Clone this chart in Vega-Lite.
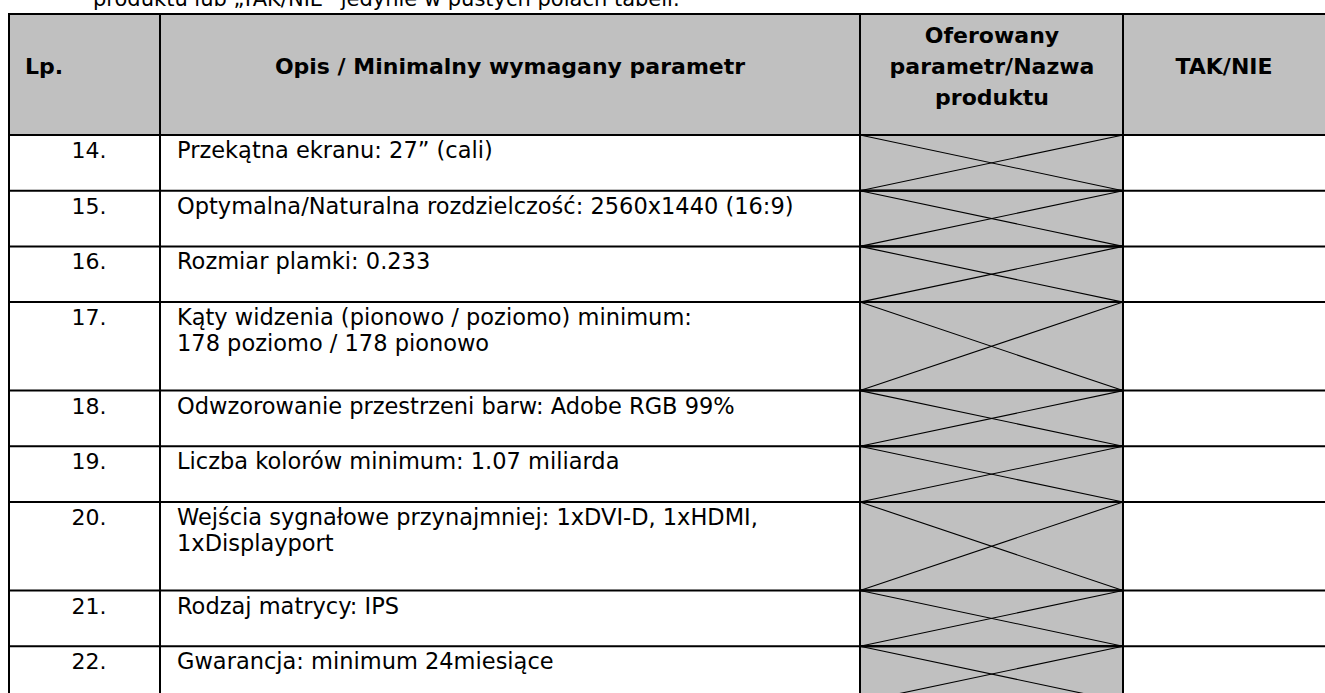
{
  "$schema": "https://vega.github.io/schema/vega-lite/v6.json",
  "width": 1325,
  "height": 693,
  "autosize": {"type": "none"},
  "padding": 0,
  "background": "white",
  "config": {"view": {"stroke": null}, "axis": {"disable": true}, "text": {"font": "DejaVu Sans", "color": "black"}},
  "datasets": {
    "rows": [
      {"lp": "14.", "opis": "Przekątna ekranu: 27” (cali)"},
      {"lp": "15.", "opis": "Optymalna/Naturalna rozdzielczość: 2560x1440 (16:9)"},
      {"lp": "16.", "opis": "Rozmiar plamki: 0.233"},
      {"lp": "17.", "opis": ["Kąty widzenia (pionowo / poziomo) minimum:", "178 poziomo / 178 pionowo"]},
      {"lp": "18.", "opis": "Odwzorowanie przestrzeni barw: Adobe RGB 99%"},
      {"lp": "19.", "opis": "Liczba kolorów minimum: 1.07 miliarda"},
      {"lp": "20.", "opis": ["Wejścia sygnałowe przynajmniej: 1xDVI-D, 1xHDMI,", "1xDisplayport"]},
      {"lp": "21.", "opis": "Rodzaj matrycy: IPS"},
      {"lp": "22.", "opis": "Gwarancja: minimum 24miesiące"}
    ],
    "header": [
      {"col": "lp", "label": "Lp."},
      {"col": "opis", "label": "Opis / Minimalny wymagany parametr"},
      {"col": "ofer", "label": ["Oferowany", "parametr/Nazwa", "produktu"]},
      {"col": "tak", "label": "TAK/NIE"}
    ],
    "note": [
      {"t": "produktu lub „TAK/NIE” jedynie w pustych polach tabeli."}
    ]
  },
  "layer": [
    {
      "data": {"name": "header"},
      "transform": [
        {"calculate": "[9,160,860,1123][indexof(['lp','opis','ofer','tak'], datum.col)]", "as": "x0"},
        {"calculate": "[160,860,1123,1328][indexof(['lp','opis','ofer','tak'], datum.col)]", "as": "x1"},
        {"calculate": "[44,510,992,1224][indexof(['lp','opis','ofer','tak'], datum.col)]", "as": "xt"},
        {"calculate": "67 - ((isArray(datum.label) ? length(datum.label) : 1) - 1) * 15.5", "as": "yt"}
      ],
      "layer": [
        {
          "mark": {"type": "rect", "fill": "#c0c0c0", "stroke": "black", "strokeWidth": 2},
          "encoding": {
            "x": {"field": "x0", "type": "quantitative", "scale": {"domain": [0, 1325], "nice": false, "zero": false}},
            "x2": {"field": "x1"},
            "y": {"datum": 14, "type": "quantitative", "scale": {"domain": [0, 693], "nice": false, "zero": false, "reverse": true}},
            "y2": {"datum": 135}
          }
        },
        {
          "mark": {"type": "rule", "stroke": "black", "strokeWidth": 2},
          "encoding": {
            "x": {"field": "x0", "type": "quantitative"},
            "y": {"datum": 135, "type": "quantitative"},
            "y2": {"datum": 710}
          }
        },
        {
          "mark": {"type": "text", "fontWeight": "bold", "fontSize": 22, "align": "center", "baseline": "middle", "lineHeight": 31},
          "encoding": {
            "x": {"field": "xt", "type": "quantitative"},
            "y": {"field": "yt", "type": "quantitative"},
            "text": {"field": "label"}
          }
        }
      ]
    },
    {
      "data": {"name": "rows"},
      "transform": [
        {"calculate": "isArray(datum.opis) ? length(datum.opis) : 1", "as": "nlines"},
        {"calculate": "datum.nlines > 1 ? 88.5 : 55.7", "as": "h"},
        {"window": [{"op": "sum", "field": "h", "as": "cum"}], "frame": [null, 0]},
        {"calculate": "135 + datum.cum", "as": "yb"},
        {"calculate": "datum.yb - datum.h", "as": "yt"},
        {"calculate": "datum.yt + 23", "as": "ytext"}
      ],
      "layer": [
        {
          "mark": {"type": "rect", "fill": "#c0c0c0", "stroke": "black", "strokeWidth": 2},
          "encoding": {
            "x": {"datum": 860, "type": "quantitative"},
            "x2": {"datum": 1123},
            "y": {"field": "yt", "type": "quantitative"},
            "y2": {"field": "yb"}
          }
        },
        {
          "mark": {"type": "rule", "stroke": "black", "strokeWidth": 1.1},
          "encoding": {
            "x": {"datum": 860, "type": "quantitative"},
            "x2": {"datum": 1123},
            "y": {"field": "yt", "type": "quantitative"},
            "y2": {"field": "yb"}
          }
        },
        {
          "mark": {"type": "rule", "stroke": "black", "strokeWidth": 1.1},
          "encoding": {
            "x": {"datum": 860, "type": "quantitative"},
            "x2": {"datum": 1123},
            "y": {"field": "yb", "type": "quantitative"},
            "y2": {"field": "yt"}
          }
        },
        {
          "mark": {"type": "rule", "stroke": "black", "strokeWidth": 2},
          "encoding": {
            "x": {"datum": 9, "type": "quantitative"},
            "x2": {"datum": 1328},
            "y": {"field": "yb", "type": "quantitative"}
          }
        },
        {
          "mark": {"type": "text", "fontSize": 22, "align": "center", "baseline": "alphabetic"},
          "encoding": {
            "x": {"datum": 89, "type": "quantitative"},
            "y": {"field": "ytext", "type": "quantitative"},
            "text": {"field": "lp"}
          }
        },
        {
          "mark": {"type": "text", "fontSize": 22.5, "align": "left", "baseline": "alphabetic", "lineHeight": 26},
          "encoding": {
            "x": {"datum": 177, "type": "quantitative"},
            "y": {"field": "ytext", "type": "quantitative"},
            "text": {"field": "opis"}
          }
        }
      ]
    },
    {
      "data": {"name": "note"},
      "mark": {"type": "text", "fontSize": 21, "align": "left", "baseline": "alphabetic"},
      "encoding": {
        "x": {"datum": 93, "type": "quantitative"},
        "y": {"datum": 6, "type": "quantitative"},
        "text": {"field": "t"}
      }
    }
  ]
}
